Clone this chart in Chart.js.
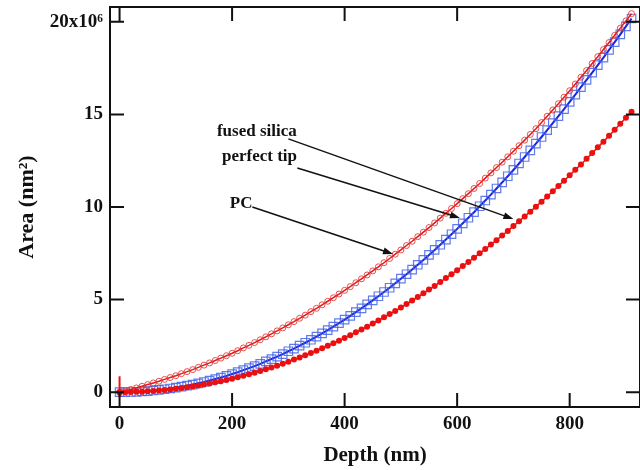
<!DOCTYPE html>
<html>
<head>
<meta charset="utf-8">
<script src="https://cdn.jsdelivr.net/npm/chart.js@4.4.1/dist/chart.umd.min.js"></script>
<style>
  html, body { margin: 0; padding: 0; background: #fff; overflow: hidden; }
</style>
</head>
<body>
<canvas id="area" width="640" height="470"></canvas>
<script>
// depth in nm, areas in units of 10^6 nm^2
const depth = [0,10,20,30,40,50,60,70,80,90,100,110,120,130,140,150,160,170,180,190,
  200,210,220,230,240,250,260,270,280,290,300,310,320,330,340,350,360,370,380,390,
  400,410,420,430,440,450,460,470,480,490,500,510,520,530,540,550,560,570,580,590,
  600,610,620,630,640,650,660,670,680,690,700,710,720,730,740,750,760,770,780,790,
  800,810,820,830,840,850,860,870,880,890,900,910];

const perfectTip = [0.00,0.00,0.01,0.02,0.04,0.06,0.09,0.12,0.16,0.20,0.25,0.30,0.35,0.41,0.48,0.55,0.63,0.71,0.79,0.88,
  0.98,1.08,1.19,1.30,1.41,1.53,1.66,1.79,1.92,2.06,2.21,2.35,2.51,2.67,2.83,3.00,3.18,3.35,3.54,3.73,
  3.92,4.12,4.32,4.53,4.74,4.96,5.18,5.41,5.64,5.88,6.13,6.37,6.62,6.88,7.14,7.41,7.68,7.96,8.24,8.53,
  8.82,9.12,9.42,9.72,10.04,10.35,10.67,11.00,11.33,11.66,12.00,12.35,12.70,13.06,13.42,13.78,14.15,14.53,14.91,15.29,
  15.68,16.07,16.47,16.86,17.26,17.66,18.07,18.48,18.90,19.32,19.75,20.18];

const fusedSilica = [0.00,0.07,0.15,0.23,0.32,0.41,0.50,0.59,0.69,0.79,0.89,1.00,1.11,1.22,1.34,1.46,1.58,1.71,1.84,1.97,
  2.10,2.24,2.39,2.53,2.68,2.83,2.99,3.15,3.31,3.47,3.64,3.81,3.99,4.16,4.35,4.53,4.72,4.91,5.10,5.30,
  5.50,5.70,5.91,6.12,6.33,6.55,6.77,6.99,7.22,7.45,7.68,7.92,8.15,8.40,8.64,8.89,9.14,9.40,9.66,9.92,
  10.18,10.45,10.72,11.00,11.27,11.56,11.84,12.13,12.42,12.71,13.01,13.31,13.61,13.92,14.23,14.56,14.90,15.24,15.58,15.93,
  16.28,16.64,17.01,17.37,17.75,18.12,18.50,18.88,19.27,19.66,20.05,20.44];

const pcArea = [0.00,0.00,0.01,0.02,0.03,0.05,0.07,0.09,0.12,0.15,0.18,0.22,0.26,0.31,0.36,0.41,0.47,0.53,0.59,0.66,
  0.73,0.81,0.89,0.97,1.05,1.14,1.24,1.33,1.43,1.54,1.65,1.76,1.87,1.99,2.12,2.24,2.37,2.51,2.64,2.78,
  2.93,3.08,3.23,3.38,3.54,3.71,3.87,4.04,4.22,4.39,4.57,4.76,4.95,5.14,5.34,5.54,5.74,5.95,6.16,6.37,
  6.59,6.81,7.03,7.26,7.50,7.73,7.97,8.21,8.46,8.71,8.97,9.23,9.49,9.75,10.02,10.29,10.57,10.85,11.13,11.42,
  11.71,12.01,12.30,12.61,12.91,13.22,13.53,13.85,14.17,14.50,14.82,15.15];

const zeroBarDepth = [0, 0];
const zeroBarArea = [-0.27, 0.86];

const depthTicks = [0, 200, 400, 600, 800];
const areaTicks = [0, 5, 10, 15, 20];

// callouts, anchored in data units (depth, area)
const notes = [
  { text: 'fused silica', at: [173, 13.84], from: [300, 13.68], to: [700, 9.35] },
  { text: 'perfect tip', at: [182, 12.49], from: [316, 12.11], to: [605, 9.41] },
  { text: 'PC', at: [196, 9.97], from: [236, 10.0], to: [486, 7.46] }
];

const pts = (xs, ys) => xs.map((v, i) => ({ x: v, y: ys[i] }));

const frame = {
  id: 'frame',
  afterDatasetsDraw(chart) {
    const { ctx, chartArea: a, scales: { x, y } } = chart;
    ctx.save();
    ctx.strokeStyle = '#111';
    ctx.lineWidth = 2;
    ctx.strokeRect(a.left, a.top, a.right - a.left, a.bottom - a.top);

    // inward ticks on all four sides
    const tl = 14;
    ctx.beginPath();
    depthTicks.forEach(v => {
      const px = x.getPixelForValue(v);
      ctx.moveTo(px, a.bottom); ctx.lineTo(px, a.bottom - tl);
      ctx.moveTo(px, a.top); ctx.lineTo(px, a.top + tl);
    });
    areaTicks.forEach(v => {
      const py = y.getPixelForValue(v);
      ctx.moveTo(a.left, py); ctx.lineTo(a.left + tl, py);
      ctx.moveTo(a.right, py); ctx.lineTo(a.right - tl, py);
    });
    ctx.stroke();

    // callouts
    ctx.fillStyle = '#111';
    ctx.lineWidth = 1.5;
    ctx.font = 'bold 17px "Liberation Serif"';
    ctx.textAlign = 'left';
    ctx.textBaseline = 'alphabetic';
    notes.forEach(n => {
      ctx.fillText(n.text, x.getPixelForValue(n.at[0]), y.getPixelForValue(n.at[1]));
      const x0 = x.getPixelForValue(n.from[0]), y0 = y.getPixelForValue(n.from[1]);
      const x1 = x.getPixelForValue(n.to[0]), y1 = y.getPixelForValue(n.to[1]);
      const ang = Math.atan2(y1 - y0, x1 - x0);
      ctx.beginPath();
      ctx.moveTo(x0, y0);
      ctx.lineTo(x1 - 8 * Math.cos(ang), y1 - 8 * Math.sin(ang));
      ctx.stroke();
      ctx.beginPath();
      ctx.moveTo(x1, y1);
      ctx.lineTo(x1 - 10 * Math.cos(ang) + 3.5 * Math.sin(ang), y1 - 10 * Math.sin(ang) - 3.5 * Math.cos(ang));
      ctx.lineTo(x1 - 10 * Math.cos(ang) - 3.5 * Math.sin(ang), y1 - 10 * Math.sin(ang) + 3.5 * Math.cos(ang));
      ctx.closePath();
      ctx.fill();
    });

    // axis titles
    ctx.font = 'bold 21px "Liberation Serif"';
    ctx.textAlign = 'center';
    ctx.fillText('Depth (nm)', (a.left + a.right) / 2, a.bottom + 54);
    ctx.translate(27, (a.top + a.bottom) / 2);
    ctx.rotate(-Math.PI / 2);
    ctx.font = 'bold 22px "Liberation Serif"';
    ctx.textBaseline = 'middle';
    ctx.fillText('Area (nm\u00B2)', 0, 0);
    ctx.restore();
  }
};

const tickFont = { family: '"Liberation Serif"', size: 19, weight: 'bold' };

new Chart(document.getElementById('area').getContext('2d'), {
  type: 'scatter',
  data: {
    datasets: [
      {
        label: 'PC',
        data: pts(depth, pcArea),
        showLine: true,
        borderColor: 'rgb(230,20,20)',
        borderWidth: 1.5,
        pointStyle: 'circle',
        pointRadius: 3,
        pointBackgroundColor: 'rgb(235,15,15)',
        pointBorderColor: 'rgb(235,15,15)',
        pointBorderWidth: 0,
        order: 1
      },
      {
        label: 'fused silica',
        data: pts(depth, fusedSilica),
        showLine: true,
        borderColor: 'rgb(225,25,25)',
        borderWidth: 1.5,
        pointStyle: 'circle',
        pointRadius: 3,
        pointBackgroundColor: 'rgba(0,0,0,0)',
        pointBorderColor: 'rgba(225,50,50,0.85)',
        pointBorderWidth: 1,
        order: 2
      },
      {
        label: 'perfect tip',
        data: pts(depth, perfectTip),
        showLine: true,
        borderColor: 'rgb(25,35,225)',
        borderWidth: 2,
        pointStyle: 'rect',
        pointRadius: 6,
        pointBackgroundColor: 'rgba(0,0,0,0)',
        pointBorderColor: 'rgba(70,100,230,0.85)',
        pointBorderWidth: 1.2,
        order: 3
      },
      {
        label: 'zero',
        data: pts(zeroBarDepth, zeroBarArea),
        showLine: true,
        borderColor: 'rgb(230,20,20)',
        borderWidth: 2,
        pointRadius: 0,
        order: 0
      }
    ]
  },
  options: {
    responsive: false,
    animation: false,
    layout: { autoPadding: false, padding: { top: 7, right: 0, bottom: 0, left: 0 } },
    plugins: { legend: { display: false }, tooltip: { enabled: false } },
    scales: {
      x: {
        type: 'linear',
        min: -17,
        max: 925,
        grid: { display: false, drawTicks: false },
        border: { display: false },
        afterBuildTicks: s => { s.ticks = depthTicks.map(v => ({ value: v })); },
        afterFit: s => { s.height = 63; s.paddingLeft = 0; s.paddingRight = 0; },
        ticks: { color: '#111', font: tickFont, padding: 6, maxRotation: 0, includeBounds: false }
      },
      y: {
        type: 'linear',
        min: -0.8,
        max: 20.8,
        grid: { display: false, drawTicks: false },
        border: { display: false },
        afterBuildTicks: s => { s.ticks = areaTicks.map(v => ({ value: v })); },
        afterFit: s => { s.width = 110; s.paddingTop = 0; s.paddingBottom = 0; },
        ticks: {
          color: '#111', font: tickFont, padding: 7, includeBounds: false,
          callback: v => v === 20 ? '20x10\u2076' : String(v)
        }
      }
    }
  },
  plugins: [frame]
});
</script>
</body>
</html>
